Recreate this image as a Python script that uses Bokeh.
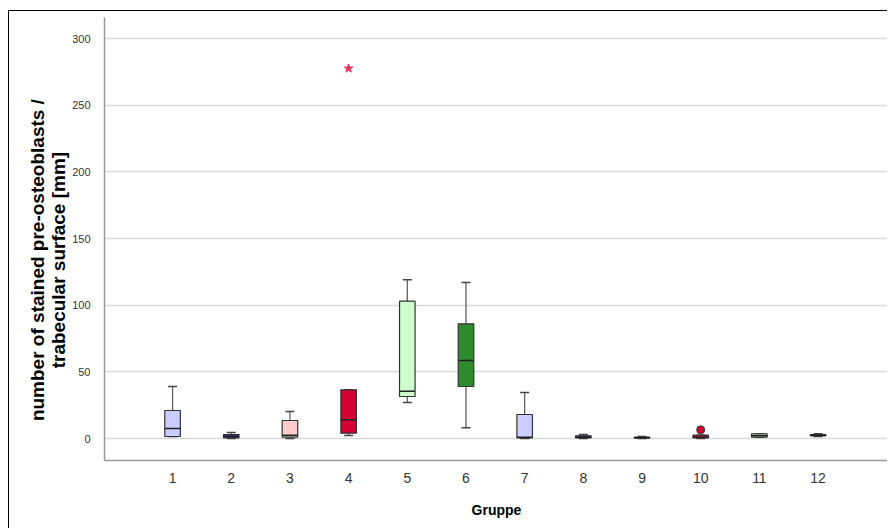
import numpy as np
from bokeh.plotting import figure
from bokeh.models import ColumnDataSource, FixedTicker, Range1d
from bokeh.embed import file_html
from bokeh.resources import INLINE

groups = [1, 2, 3, 4, 5, 6, 7, 8, 9, 10, 11, 12]
q_min = [1.5, 0.0, 0.0, 2.3, 27.0, 8.0, 0.0, 0.0, 0.0, 0.0, 1.0, 1.5]
q1 = [1.5, 0.5, 1.0, 4.0, 31.5, 39.0, 0.5, 0.5, 0.3, 0.5, 1.0, 2.0]
median = [7.5, 1.5, 2.5, 14.0, 35.5, 58.5, 1.0, 1.0, 0.6, 1.0, 2.0, 2.5]
q3 = [21.0, 3.0, 13.5, 36.5, 103.0, 86.0, 18.0, 2.0, 1.0, 2.5, 3.5, 3.0]
q_max = [39.0, 4.5, 20.3, 36.5, 119.0, 117.0, 34.5, 3.0, 1.5, 2.5, 3.5, 3.5]
colors = ["#CCCCFF", "#2D2D8F", "#FFCCCC", "#D20034", "#CCFFCC", "#2E8B2E",
          "#CCCCFF", "#2D2D8F", "#FFCCCC", "#D20034", "#CCFFCC", "#2E8B2E"]

extreme_group = [4]
extreme_value = [277.5]
outlier_group = [10]
outlier_value = [6.5]

y_ticks = [0, 50, 100, 150, 200, 250, 300]

box_w = 0.265
x = np.array(groups, dtype=float)
src = ColumnDataSource(dict(
    x=x, lo=q_min, q1=q1, med=median, q3=q3, hi=q_max, color=colors,
    mx0=x - box_w / 2, mx1=x + box_w / 2,
))

p = figure(width=879, height=518, output_backend="svg", toolbar_location=None,
           x_range=Range1d(-0.16, 13.2), y_range=Range1d(-16.5, 315.75),
           min_border_left=95, min_border_top=6, min_border_bottom=69,
           min_border_right=0)
p.styles = {"margin-left": "8px", "margin-top": "10px",
            "border-left": "1px solid #000", "border-top": "1px solid #000"}
p.outline_line_color = None
p.background_fill_color = "white"
p.border_fill_color = "white"

# grid
p.xgrid.grid_line_color = None
p.ygrid.grid_line_color = "#D9D9D9"
p.ygrid.grid_line_width = 1.5
p.ygrid.ticker = FixedTicker(ticks=y_ticks)

# axes
p.yaxis.ticker = FixedTicker(ticks=y_ticks)
p.xaxis.ticker = FixedTicker(ticks=groups)
for ax in (p.xaxis, p.yaxis):
    ax.major_tick_line_color = None
    ax.minor_tick_line_color = None
    ax.axis_line_color = "#9A9A9A"
    ax.axis_line_width = 1.5
    ax.major_label_text_font = "Liberation Sans"
    ax.major_label_text_color = "#333333"
    ax.axis_label_text_font = "Liberation Sans"
    ax.axis_label_text_font_style = "bold"
    ax.axis_label_text_color = "#000000"
p.yaxis.major_label_text_font_size = "11px"
p.yaxis.major_label_standoff = 8
p.xaxis.major_label_text_font_size = "14px"
p.xaxis.major_label_standoff = 6
pad = "\u00a0" * 8
p.yaxis.axis_label = ("number of stained pre-osteoblasts /" + pad + "\n"
                      + "trabecular surface [mm]" + pad)
p.yaxis.axis_label_text_font_size = "19px"
p.yaxis.axis_label_text_line_height = 1.0
p.yaxis.axis_label_standoff = 0
p.xaxis.axis_label = "Gruppe"
p.xaxis.axis_label_text_font_size = "14px"
p.xaxis.axis_label_standoff = 16

# whiskers
p.segment(x0="x", y0="q3", x1="x", y1="hi", source=src, line_color="#555555", line_width=1.2)
p.segment(x0="x", y0="lo", x1="x", y1="q1", source=src, line_color="#555555", line_width=1.2)
p.scatter(x="x", y="hi", source=src, marker="dash", size=9, line_color="#444444", line_width=1.5)
p.scatter(x="x", y="lo", source=src, marker="dash", size=9, line_color="#444444", line_width=1.5)

# boxes
p.vbar(x="x", bottom="q1", top="q3", width=box_w, source=src,
       fill_color="color", line_color="#333333", line_width=1.2)
p.segment(x0="mx0", y0="med", x1="mx1", y1="med", source=src,
          line_color="#222222", line_width=1.5)

# outliers
p.scatter(x=outlier_group, y=outlier_value, marker="circle", size=8,
          fill_color="#D20034", line_color="#333333", line_width=1)
p.scatter(x=extreme_group, y=extreme_value, marker="star", size=9,
          fill_color="#E8305A", line_color="#E8305A")

open("out.html", "w").write(file_html(p, INLINE))
